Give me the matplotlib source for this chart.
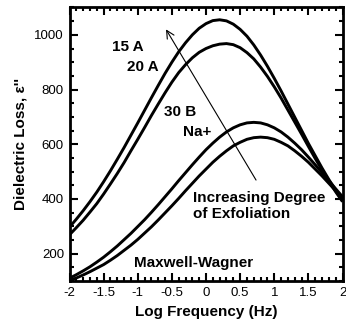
import numpy as np
import matplotlib
matplotlib.use("Agg")
import matplotlib.pyplot as plt
from matplotlib.ticker import MultipleLocator, FixedLocator

plt.rcParams['font.family'] = ['Liberation Sans', 'DejaVu Sans']

# ---- data ----
log_freq = [-2.0, -1.9, -1.8, -1.7, -1.6, -1.5, -1.4, -1.3, -1.2, -1.1, -1.0,
            -0.9, -0.8, -0.7, -0.6, -0.5, -0.4, -0.3, -0.2, -0.1, 0.0,
            0.1, 0.2, 0.3, 0.4, 0.5, 0.6, 0.7, 0.8, 0.9, 1.0,
            1.1, 1.2, 1.3, 1.4, 1.5, 1.6, 1.7, 1.8, 1.9, 2.0]

loss_15A = [297, 326, 357, 390, 425, 463, 503, 545, 588, 633, 678,
            724, 770, 815, 859, 900, 938, 971, 1000, 1024, 1041,
            1052, 1055, 1051, 1039, 1020, 995, 963, 926, 885, 841,
            795, 747, 699, 651, 603, 558, 513, 471, 431, 394]

loss_20A = [269, 295, 322, 352, 383, 418, 455, 493, 533, 576, 618,
            661, 705, 747, 788, 827, 862, 891, 916, 936, 950,
            960, 966, 968, 964, 953, 935, 912, 882, 848, 810,
            769, 725, 681, 637, 592, 548, 506, 465, 426, 390]

loss_30B = [110, 123, 137, 152, 169, 187, 207, 228, 251, 274, 299,
            324, 351, 379, 408, 437, 467, 496, 525, 553, 580,
            604, 626, 645, 660, 671, 678, 680, 678, 671, 660,
            645, 626, 604, 580, 553, 525, 496, 467, 437, 408]

loss_Na = [102, 111, 122, 134, 147, 160, 176, 193, 212, 231, 252,
           275, 298, 323, 349, 375, 402, 430, 457, 484, 509,
           534, 556, 576, 594, 607, 618, 624, 626, 624, 618,
           607, 594, 576, 556, 534, 509, 484, 457, 430, 402]

x_ticks = [-2, -1.5, -1, -0.5, 0, 0.5, 1, 1.5, 2]
x_ticklabels = ['-2', '-1.5', '-1', '-0.5', '0', '0.5', '1', '1.5', '2']
y_ticks = [200, 400, 600, 800, 1000]

# ---- figure ----
fig = plt.figure(figsize=(3.46, 3.31), dpi=100)
ax = fig.add_axes([0.2009, 0.1511, 0.789, 0.8263])

for series in (loss_15A, loss_20A, loss_30B, loss_Na):
    ax.plot(log_freq, series, color='black', lw=2.1, solid_capstyle='butt')

ax.set_xlim(-2, 2)
ax.set_ylim(100, 1100)
ax.xaxis.set_major_locator(FixedLocator(x_ticks))
ax.set_xticklabels(x_ticklabels)
ax.xaxis.set_minor_locator(MultipleLocator(0.1))
ax.yaxis.set_major_locator(FixedLocator(y_ticks))
ax.yaxis.set_minor_locator(MultipleLocator(50))

ax.tick_params(which='both', direction='in', top=True, right=True,
               labelsize=9.5, width=1.5, pad=4)
ax.tick_params(which='major', length=5.5)
ax.tick_params(which='minor', length=3)
for sp in ax.spines.values():
    sp.set_linewidth(2.0)

ax.set_xlabel('Log Frequency (Hz)', fontsize=11, fontweight='bold', labelpad=5)
ax.set_ylabel("Dielectric Loss, \u03b5''", fontsize=11, fontweight='bold', labelpad=5)

tkw = dict(fontsize=11, fontweight='bold', va='center', ha='left')
ax.text(-1.376, 954, '15 A', **tkw)
ax.text(-1.157, 882, '20 A', **tkw)
ax.text(-0.616, 719, '30 B', **tkw)
ax.text(-0.337, 646, 'Na+', **tkw)
ax.text(-0.19, 375, 'Increasing Degree\nof Exfoliation', fontsize=11,
        fontweight='bold', va='center', ha='left', linespacing=1.15)
ax.text(-1.055, 165, 'Maxwell-Wagner', **tkw)

ax.annotate('', xy=(-0.586, 1020), xytext=(0.733, 469),
            arrowprops=dict(arrowstyle='->', lw=0.8, color='black',
                            mutation_scale=14, shrinkA=0, shrinkB=0))

fig.savefig('out.png', dpi=100)
